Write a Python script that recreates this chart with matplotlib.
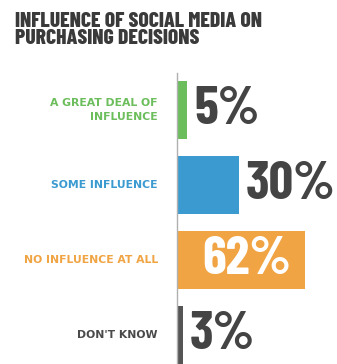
import matplotlib
matplotlib.use("Agg")
from matplotlib import pyplot as plt

labels = ["A GREAT DEAL OF\nINFLUENCE", "SOME INFLUENCE", "NO INFLUENCE AT ALL", "DON'T KNOW"]
values = [5, 30, 62, 3]
colors = ["#6cbd5c", "#3b9bd1", "#f0a444", "#555555"]
label_colors = ["#6cbd5c", "#3b9bd1", "#f0a444", "#4a4a4a"]
title = "INFLUENCE OF SOCIAL MEDIA ON\nPURCHASING DECISIONS"

cond = ["Barlow Condensed", "DejaVu Sans"]

fig = plt.figure(figsize=(3.37, 3.64), dpi=100)
ax = fig.add_axes([177/337, 0, 160/337, 291/364])

pos = range(len(values))
ax.barh(pos, values, height=0.77, color=colors)
ax.set_xlim(0, 160/2.07)
ax.set_ylim(3.387, -0.493)
for s in ["top", "right", "bottom"]:
    ax.spines[s].set_visible(False)
ax.spines["left"].set_color("#b0b0b0")
ax.spines["left"].set_linewidth(1)
ax.set_xticks([])
ax.set_yticks([])

for i, (lab, v) in enumerate(zip(labels, values)):
    ax.text(-9.2, i, lab, ha="right", va="center", fontsize=7.8, fontweight="bold",
            color=label_colors[i], family="DejaVu Sans", linespacing=1.45, clip_on=False)
    if v > 50:
        ax.annotate(f"{v}%", (v, i), xytext=(-10, 0), textcoords="offset points",
                    ha="right", va="center", fontsize=39, fontweight=700,
                    color="white", family=cond)
    else:
        ax.annotate(f"{v}%", (v, i), xytext=(5, 0), textcoords="offset points",
                    ha="left", va="center", fontsize=39, fontweight=700,
                    color="#444444", family=cond)

fig.text(15/337, 1 - 12/364, title, ha="left", va="top", fontsize=15.5,
         fontweight=800, color="#3a3a3a", family=cond, linespacing=0.88)

fig.savefig("out.png", dpi=100)
